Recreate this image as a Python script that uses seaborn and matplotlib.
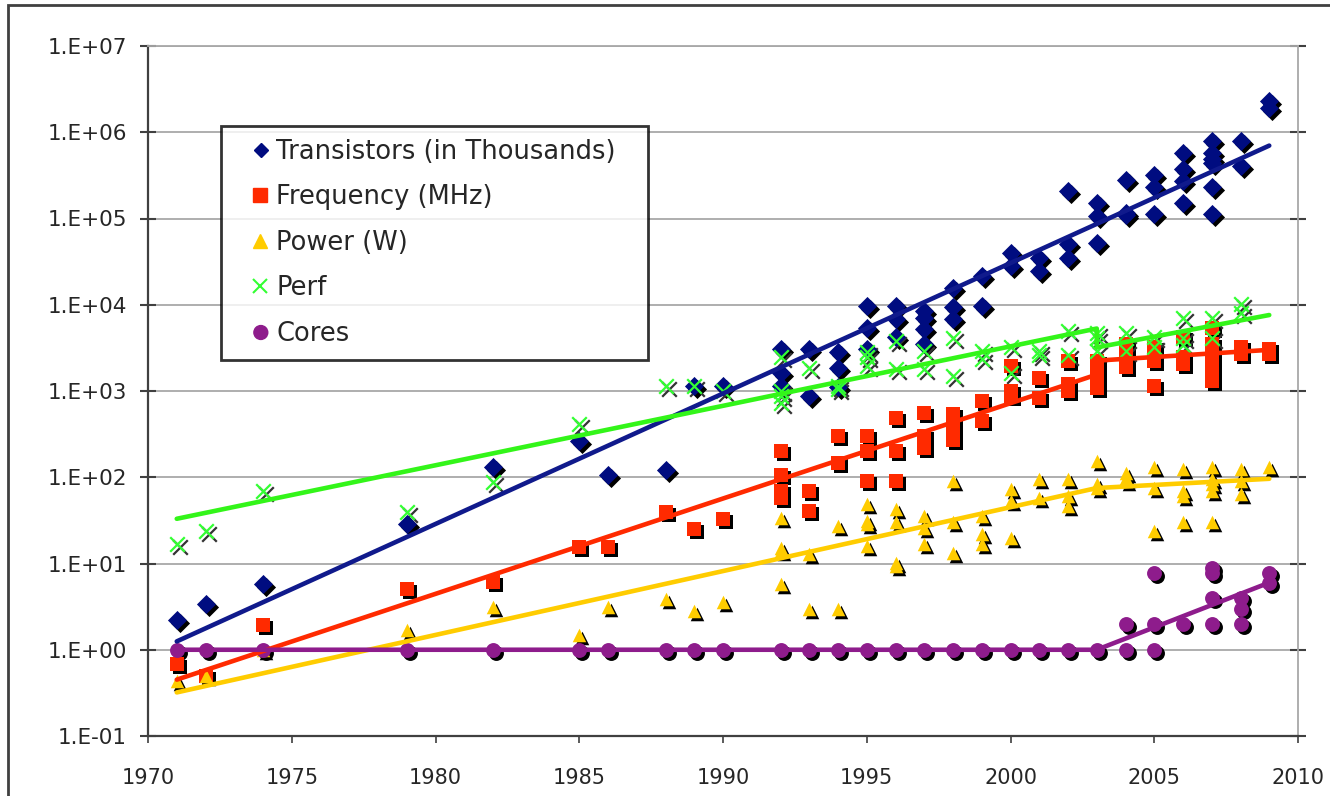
import numpy as np
import pandas as pd
import matplotlib
matplotlib.use("Agg")
import matplotlib.pyplot as plt
import matplotlib.transforms as mtransforms
from matplotlib.lines import Line2D
from matplotlib.markers import MarkerStyle
from matplotlib.patches import Rectangle
from matplotlib.ticker import FixedLocator, FuncFormatter, NullLocator
import seaborn as sns

# --- scatter data ---
transistor_years = [1971, 1972, 1974, 1979, 1982, 1985, 1986, 1988, 1989, 1990,
                    1992, 1992, 1992, 1993, 1993, 1994, 1994, 1994,
                    1995, 1995, 1995, 1996, 1996, 1996, 1997, 1997, 1997, 1997,
                    1998, 1998, 1998, 1999, 1999, 2000, 2000, 2001, 2001,
                    2002, 2002, 2002, 2003, 2003, 2003, 2004, 2004, 2004,
                    2005, 2005, 2005, 2006, 2006, 2006, 2006,
                    2007, 2007, 2007, 2007, 2007, 2007, 2008, 2008, 2009, 2009]
transistor_vals = [2.2, 3.4, 5.8, 29, 130, 265, 107, 120, 1150, 1150,
                   3100, 1600, 1150, 3100, 880, 2800, 1860, 1100,
                   9700, 5400, 3100, 9700, 6900, 4200, 8500, 7100, 5300, 3500,
                   15800, 9300, 6900, 21700, 9700, 40000, 28000, 35000, 24500,
                   210000, 51000, 35000, 150000, 107000, 52000, 280000, 116000, 110000,
                   316000, 230000, 113000, 577000, 370000, 275000, 150000,
                   800000, 577000, 490000, 440000, 230000, 113000, 800000, 410000,
                   2300000, 1900000]

freq_years = [1971, 1972, 1974, 1979, 1982, 1985, 1986, 1988, 1989, 1990,
              1992, 1992, 1992, 1992, 1993, 1993, 1994, 1994, 1995, 1995, 1995,
              1996, 1996, 1996, 1997, 1997, 1997, 1998, 1998, 1998, 1998,
              1999, 1999, 2000, 2000, 2000, 2001, 2001, 2002, 2002, 2002,
              2003, 2003, 2003, 2003, 2004, 2004, 2004, 2005, 2005, 2005,
              2006, 2006, 2006, 2007, 2007, 2007, 2007, 2007, 2008, 2008, 2009, 2009]
freq_vals = [0.69, 0.5, 1.95, 5, 6.1, 15.6, 15.6, 40, 25, 33,
             200, 105, 70, 58, 70, 41, 300, 148, 300, 200, 91,
             490, 200, 91, 550, 300, 220, 540, 420, 330, 270,
             770, 450, 1960, 1000, 880, 1400, 830, 2200, 1200, 1000,
             2200, 1650, 1250, 1070, 3500, 2450, 1900, 3200, 2200, 1150,
             4200, 2450, 2050, 5400, 3500, 2450, 1700, 1300, 3200, 2700, 3100, 2700]

power_years = [1971, 1972, 1974, 1979, 1982, 1985, 1986, 1988, 1989, 1990,
               1992, 1992, 1992, 1992, 1993, 1993, 1994, 1994,
               1995, 1995, 1995, 1995, 1996, 1996, 1996, 1996, 1997, 1997, 1997,
               1998, 1998, 1998, 1999, 1999, 1999, 2000, 2000, 2000, 2001, 2001,
               2002, 2002, 2002, 2003, 2003, 2003, 2004, 2004, 2004,
               2005, 2005, 2005, 2006, 2006, 2006, 2006,
               2007, 2007, 2007, 2007, 2007, 2008, 2008, 2008, 2009]
power_vals = [0.44, 0.49, 1.0, 1.7, 3.1, 1.5, 3.1, 3.9, 2.8, 3.6,
              34, 15, 14, 5.8, 13, 3, 27, 3,
              49, 31, 29, 16, 43, 30, 10.2, 9.4, 36, 26, 17,
              91, 30, 13.3, 36, 22, 17, 73, 53, 20, 96, 58,
              96, 61, 47, 155, 84, 75, 113, 98, 91,
              130, 75, 24, 125, 70, 61, 30,
              130, 96, 84, 70, 30, 125, 91, 64, 130]

perf_years = [1971, 1972, 1974, 1979, 1982, 1985, 1988, 1989, 1990,
              1992, 1992, 1992, 1992, 1993, 1994, 1994, 1995, 1995, 1995,
              1996, 1996, 1997, 1997, 1998, 1998, 1999, 1999, 2000, 2000,
              2001, 2001, 2002, 2002, 2003, 2003, 2003, 2004, 2004,
              2005, 2005, 2006, 2006, 2006, 2007, 2007, 2008, 2008]
perf_vals = [17, 24, 70, 40, 89, 410, 1150, 1150, 1000,
             2450, 1000, 880, 730, 1850, 1150, 1050, 2800, 2450, 1960,
             3800, 1800, 2900, 1800, 4100, 1500, 2900, 2350, 3200, 1600,
             2900, 2600, 5000, 2600, 4700, 4100, 2900, 4700, 2900,
             4200, 3200, 7000, 4100, 3400, 7000, 4100, 10300, 8000]

cores_years = [1971, 1972, 1974, 1979, 1982, 1985, 1986, 1988, 1989, 1990,
               1992, 1993, 1994, 1995, 1996, 1997, 1998, 1999, 2000, 2001, 2002, 2003,
               2004, 2004, 2005, 2005, 2005, 2006, 2007, 2007, 2007, 2007,
               2008, 2008, 2008, 2009, 2009]
cores_vals = [1, 1, 1, 1, 1, 1, 1, 1, 1, 1,
              1, 1, 1, 1, 1, 1, 1, 1, 1, 1, 1, 1,
              2, 1, 7.8, 2, 1, 2, 8.9, 7.8, 4, 2,
              4, 3, 2, 7.8, 6]

# --- trend lines ---
transistor_trend_x = [1971, 2009]
transistor_trend_y = [1.25, 7.0e5]
freq_trend_x = [1971, 2003, 2003, 2009]
freq_trend_y = [0.45, 1550, 2250, 3000]
power_trend_x = [1971, 2003, 2009]
power_trend_y = [0.32, 75, 96]
perf_trend_x = [1971, 2003, 2003, 2009]
perf_trend_y = [33, 5300, 3200, 7600]
cores_trend_x = [1971, 2003, 2009]
cores_trend_y = [1, 1, 6]

series_labels = ["Transistors (in Thousands)", "Frequency (MHz)", "Power (W)", "Perf", "Cores"]
x_ticks = [1970, 1975, 1980, 1985, 1990, 1995, 2000, 2005, 2010]
y_ticks = [1e-1, 1e0, 1e1, 1e2, 1e3, 1e4, 1e5, 1e6, 1e7]

NAVY, RED, GOLD, GREEN, PURPLE = "#000c80", "#ff2a00", "#ffcc00", "#33ff33", "#8e1c8c"

sns.set_style("white")
plt.rcParams["font.family"] = ["DejaVu Sans"]

fig = plt.figure(figsize=(13.3, 7.96), dpi=100)
ax = fig.add_axes([148 / 1330, 60 / 796, 1150 / 1330, 690 / 796])
shadow = mtransforms.offset_copy(ax.transData, fig=fig, x=3, y=-3, units="dots")

styles = [
    (transistor_years, transistor_vals, "D", NAVY, 95),
    (freq_years, freq_vals, "s", RED, 105),
    (power_years, power_vals, "^", GOLD, 95),
    (cores_years, cores_vals, "o", PURPLE, 115),
]
for yrs, vals, mk, col, sz in styles:
    df = pd.DataFrame({"year": yrs, "value": vals})
    sns.scatterplot(data=df, x="year", y="value", marker=mk, color="black", s=sz,
                    linewidth=0, transform=shadow, ax=ax, zorder=2, legend=False)
    sns.scatterplot(data=df, x="year", y="value", marker=mk, color=col, s=sz,
                    linewidth=0, ax=ax, zorder=3, legend=False)

perf_df = pd.DataFrame({"year": perf_years, "value": perf_vals})
sns.scatterplot(data=perf_df, x="year", y="value", marker="x", color="#333333", s=110,
                linewidth=1.6, transform=shadow, ax=ax, zorder=2, legend=False)
sns.scatterplot(data=perf_df, x="year", y="value", marker="x", color=GREEN, s=110,
                linewidth=1.6, ax=ax, zorder=3, legend=False)

trends = [
    (transistor_trend_x, transistor_trend_y, "#101a8c"),
    (freq_trend_x, freq_trend_y, RED),
    (power_trend_x, power_trend_y, GOLD),
    (perf_trend_x, perf_trend_y, "#33f519"),
    (cores_trend_x, cores_trend_y, PURPLE),
]
for tx, ty, col in trends:
    sns.lineplot(x=tx, y=ty, sort=False, estimator=None, color=col, linewidth=3.3,
                 ax=ax, zorder=5, legend=False)

ax.set_yscale("log")
ax.set_xlim(1970, 2010)
ax.set_ylim(1e-1, 1e7)
ax.xaxis.set_major_locator(FixedLocator(x_ticks))
ax.yaxis.set_major_locator(FixedLocator(y_ticks))
ax.yaxis.set_minor_locator(NullLocator())
ax.yaxis.set_major_formatter(FuncFormatter(lambda v, p: "1.E%+03d" % int(round(np.log10(v)))))
ax.set_xlabel("")
ax.set_ylabel("")
ax.yaxis.grid(True, color="#a8a8a8", linewidth=1.3, zorder=0)
ax.set_axisbelow(True)
ax.tick_params(axis="y", which="major", direction="inout", length=12, width=1.5,
               color="#404040", labelsize=15.5, pad=9, right=True, left=True)
ax.tick_params(axis="x", which="major", direction="out", length=5, width=1.2,
               color="#404040", labelsize=15, pad=18, bottom=True)
for side in ["left", "bottom"]:
    ax.spines[side].set_color("#404040")
    ax.spines[side].set_linewidth(1.6)
for side in ["top", "right"]:
    ax.spines[side].set_color("#a8a8a8")
    ax.spines[side].set_linewidth(1.3)


def shifted(mk, dx):
    return MarkerStyle(mk, transform=mtransforms.Affine2D().translate(dx, 0))


handles = [
    Line2D([], [], linestyle="none", marker=shifted("D", 0.9), color=NAVY, markersize=7),
    Line2D([], [], linestyle="none", marker=shifted("s", 0.6), color=RED, markersize=10),
    Line2D([], [], linestyle="none", marker=shifted("^", 0.6), color=GOLD, markersize=10),
    Line2D([], [], linestyle="none", marker=shifted("x", 0.6), color=GREEN, markersize=10,
           markeredgewidth=1.5),
    Line2D([], [], linestyle="none", marker=shifted("o", 0.6), color=PURPLE, markersize=10),
]
leg_top = 610 / 690
leg = ax.legend(handles=handles, labels=series_labels, loc="upper left", mode="expand",
                bbox_to_anchor=(73 / 1150, 0.3, 427 / 1150, leg_top - 0.3), borderaxespad=0,
                fontsize=18.5, frameon=True, fancybox=False, borderpad=0.5,
                handlelength=1.4, handletextpad=0.25, labelspacing=0.76)
leg.get_frame().set_edgecolor("black")
leg.get_frame().set_linewidth(2)
leg.set_zorder(10)

# outer chart border
fig.patches.append(Rectangle((8 / 1330, -0.05), 1.2, 1.05 - 5 / 796, transform=fig.transFigure,
                             fill=False, edgecolor="#404040", linewidth=2))

fig.savefig("out.png", dpi=100, facecolor="white")
